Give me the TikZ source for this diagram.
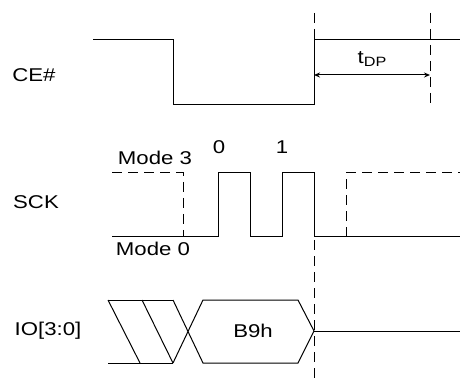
\documentclass[tikz,border=0pt]{standalone}
\usepackage{fontspec}
\setmainfont{Liberation Sans}
\usetikzlibrary{arrows.meta}
\newcommand{\subtxt}[1]{\raisebox{-0.3ex}{\fontsize{13.5}{13.5}\selectfont #1}}
\begin{document}
\begin{tikzpicture}[x=1pt,y=-1pt,
  sig/.style={line width=1pt,line join=miter},
  dsh/.style={line width=1pt,dash pattern=on 10pt off 6pt},
  lbl/.style={font=\fontsize{18.5}{18.5}\selectfont,inner sep=0pt,xscale=1.2,transform shape}]
\useasboundingbox (0,0) rectangle (460,379);
% labels
\node[lbl] (ce) at (34,75) {CE\#};
\node[lbl] (sck) at (36,202) {SCK};
\node[lbl] (io) at (48,331) {IO[3:0]};
\node[lbl] (m3) at (155,158) {Mode 3};
\node[lbl] (m0) at (153,249) {Mode 0};
\node[lbl] (c0) at (219,147) {0};
\node[lbl] (c1) at (282,147) {1};
\node[lbl] (b9) at (253,331) {B9h};
\node[lbl] (tdp) at (372,59) {t\subtxt{DP}};
% CE#
\draw[sig] (93,40) -- (173,40) -- (173,105) -- (314,105) -- (314,40) -- (460,40);
\draw[dsh] (314,13) -- (314,40);
\draw[dsh] (430,13) -- (430,105);
\coordinate (a1) at (314,75);
\coordinate (a2) at (430,75);
\draw[line width=1pt,{Stealth[length=6pt,width=5pt]}-{Stealth[length=6pt,width=5pt]}] (a1) -- (a2);
% SCK
\draw[dsh] (112,173) -- (183,173) -- (183,237);
\draw[sig] (112,237) -- (218,237) -- (218,173) -- (250,173) -- (250,237) -- (282,237) -- (282,173) -- (314,173) -- (314,237) -- (460,237);
\draw[dsh] (346,237) -- (346,173) -- (460,173);
\draw[dsh] (314,240) -- (314,379);
% IO
\draw[sig] (108,300) -- (173,300);
\draw[sig] (108,363) -- (173,363);
\draw[sig] (108,300) -- (140,363);
\draw[sig] (142,300) -- (173,363);
\draw[sig] (173,300) -- (203,363) -- (298,363) -- (314,331) -- (298,300) -- (203,300) -- (173,363);
\draw[sig] (314,331) -- (460,331);
\end{tikzpicture}
\end{document}
